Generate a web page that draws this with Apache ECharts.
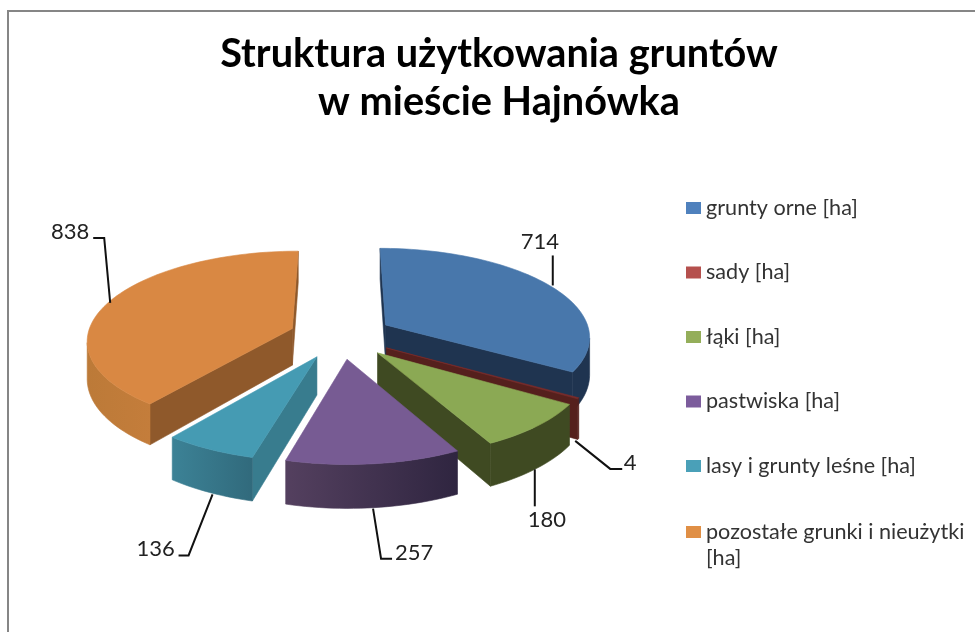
<!DOCTYPE html>
<html>
<head>
<meta charset="utf-8">
<style>html,body{margin:0;padding:0;background:#fff}#chart{width:975px;height:632px}</style>
<script src="https://cdn.jsdelivr.net/npm/echarts@6/dist/echarts.min.js"></script>
</head>
<body>
<div id="chart"></div>
<script>
var categories = ['grunty orne [ha]', 'sady [ha]', 'łąki [ha]', 'pastwiska [ha]', 'lasy i grunty leśne [ha]', 'pozostałe grunki i nieużytki [ha]'];
var values = [714, 4, 180, 257, 136, 838];

var legendColors = ['#4f81bd', '#b5504d', '#94ae5a', '#7c5c9c', '#4aa0b8', '#e08f45'];
var topColors = ['#4877ab', '#7b2c2a', '#8ba954', '#775b93', '#459bb3', '#d98843'];
var cutColors = ['#1f3450', '#55201d', '#3f4a22', '#54405f', '#387c8e', '#8f592b'];
var wallFrom = ['#1f3450', '#55201d', '#3f4a22', '#54405f', '#3c8296', '#bc7a38'];
var wallTo = ['#1f3450', '#55201d', '#3f4a22', '#2f2540', '#316a7c', '#c47d3b'];
// back slices first
var drawOrder = [0, 5, 1, 2, 4, 3];

// 3d look of the pie
var cx = 341, cy = 336, R = 205, tilt = 0.437, perspX = 0.12, perspY = 0.116, perspZ = 0.15, depth = 37, explode = 52;
var FONT = 'Lato';

// leader: shift of anchor, two elbows relative to it, label centre relative to the last elbow
var leaders = [
    {side: 'top', shift: [5, 1], pts: [[0, -30], [0, -30]], label: [-13, -14]},
    {side: 'bottom', shift: [-3, 2], pts: [[35, 28], [47, 28]], label: [8, -6]},
    {side: 'bottom', shift: [-2, 1], pts: [[0, 37], [0, 37]], label: [12, 14]},
    {side: 'bottom', shift: [-1, 1], pts: [[8, 50], [19, 50]], label: [22, -6]},
    {side: 'bottom', shift: [3, 2], pts: [[-24, 61], [-34, 61]], label: [-23, -7]},
    {side: 'top', shift: [0, 2], pts: [[-6, -65], [-17, -65]], label: [-23, -6]}
];

var total = values.reduce(function (a, b) { return a + b; });

function project(X, Y, down) {
    var t = Y / R;
    return [
        cx + X * (1 + perspX * t),
        cy + tilt * Y * (1 + perspY * t) + depth * (1 + perspZ * t) * down
    ];
}

function area(p) {
    var sum = 0;
    for (var i = 0; i < p.length; i++) {
        var q = p[(i + 1) % p.length];
        sum += p[i][0] * q[1] - q[0] * p[i][1];
    }
    return sum;
}

function poly(points, color) {
    return {
        type: 'polygon',
        shape: {points: points},
        style: {fill: color, stroke: color, lineWidth: 0.6}
    };
}

function sliceRender(index) {
    return function (params, api) {
        var before = 0;
        for (var i = 0; i < index; i++) before += values[i];
        var a0 = before / total * 2 * Math.PI;
        var a1 = (before + api.value(0)) / total * 2 * Math.PI;
        var mid = (a0 + a1) / 2;
        var ax = explode * Math.sin(mid), ay = -explode * Math.cos(mid);

        function rim(a, down) {
            return project(ax + R * Math.sin(a), ay - R * Math.cos(a), down);
        }
        var apexTop = project(ax, ay, 0), apexBottom = project(ax, ay, 1);
        var children = [];

        // cut faces
        var startFace = [apexTop, rim(a0, 0), rim(a0, 1), apexBottom];
        if (area(startFace) < 0) children.push(poly(startFace, cutColors[index]));
        var endFace = [apexTop, rim(a1, 0), rim(a1, 1), apexBottom];
        if (area(endFace) > 0) children.push(poly(endFace, cutColors[index]));

        // outer wall, only the part that faces the viewer
        var steps = Math.max(2, Math.ceil((a1 - a0) / 0.03));
        var topPoints = [apexTop], wallTop = [], wallBottom = [];
        for (var s = 0; s < steps; s++) {
            var b0 = a0 + (a1 - a0) * s / steps, b1 = a0 + (a1 - a0) * (s + 1) / steps;
            if (area([rim(b0, 0), rim(b1, 0), rim(b1, 1), rim(b0, 1)]) < 0) {
                if (!wallTop.length) {
                    wallTop.push(rim(b0, 0));
                    wallBottom.push(rim(b0, 1));
                }
                wallTop.push(rim(b1, 0));
                wallBottom.push(rim(b1, 1));
            }
            topPoints.push(rim(b0, 0));
        }
        topPoints.push(rim(a1, 0));
        if (wallTop.length) {
            children.push(poly(wallTop.concat(wallBottom.reverse()), {
                type: 'linear', x: 0, y: 0, x2: 1, y2: 0,
                colorStops: [
                    {offset: 0, color: wallFrom[index]},
                    {offset: 1, color: wallTo[index]}
                ]
            }));
        }
        children.push(poly(topPoints, topColors[index]));

        // leader line and value label
        var ld = leaders[index];
        var anchor = rim(mid, ld.side === 'top' ? 0 : 1);
        anchor = [anchor[0] + ld.shift[0], anchor[1] + ld.shift[1]];
        var p1 = [anchor[0] + ld.pts[0][0], anchor[1] + ld.pts[0][1]];
        var p2 = [anchor[0] + ld.pts[1][0], anchor[1] + ld.pts[1][1]];
        children.push({
            type: 'polyline',
            shape: {points: [anchor, p1, p2]},
            style: {fill: 'none', stroke: '#111', lineWidth: 2}
        });
        children.push({
            type: 'text',
            style: {
                x: p2[0] + ld.label[0], y: p2[1] + ld.label[1],
                text: String(api.value(0)),
                fill: '#222', font: '22px ' + FONT, align: 'center', verticalAlign: 'middle'
            }
        });
        return {type: 'group', children: children};
    };
}

var series = drawOrder.map(function (i) {
    return {
        type: 'custom',
        name: categories[i],
        coordinateSystem: 'none',
        silent: true,
        animation: false,
        clip: false,
        itemStyle: {color: legendColors[i]},
        data: [[values[i]]],
        renderItem: sliceRender(i)
    };
});

var legendText = {fontFamily: FONT, fontSize: 21.6, lineHeight: 26, color: '#333'};

var option = {
    backgroundColor: '#fff',
    animation: false,
    title: {
        text: 'Struktura użytkowania gruntów\nw mieście Hajnówka',
        left: 499,
        top: 30,
        padding: 0,
        textAlign: 'center',
        textStyle: {fontFamily: FONT, fontWeight: 'bold', fontSize: 39.7, lineHeight: 48, color: '#000'}
    },
    legend: [
        {
            data: categories.slice(0, 5),
            orient: 'vertical',
            left: 686,
            top: 195,
            padding: 0,
            itemWidth: 15,
            itemHeight: 12,
            itemGap: 38.5,
            icon: 'rect',
            selectedMode: false,
            textStyle: legendText
        },
        {
            // blank first line keeps the marker level with the first line of text
            data: categories.slice(5),
            orient: 'vertical',
            left: 686,
            top: 493,
            padding: 0,
            itemWidth: 15,
            itemHeight: 12,
            icon: 'rect',
            selectedMode: false,
            formatter: function () {
                return '\npozostałe grunki i nieużytki\n[ha]';
            },
            textStyle: legendText
        }
    ],
    graphic: [
        {
            type: 'polyline',
            shape: {points: [[8, 632], [8, 11], [975, 11]]},
            style: {fill: 'none', stroke: '#868686', lineWidth: 2}
        }
    ],
    series: series
};

var myChart = echarts.init(document.getElementById('chart'));
myChart.setOption(option);
</script>
</body>
</html>
